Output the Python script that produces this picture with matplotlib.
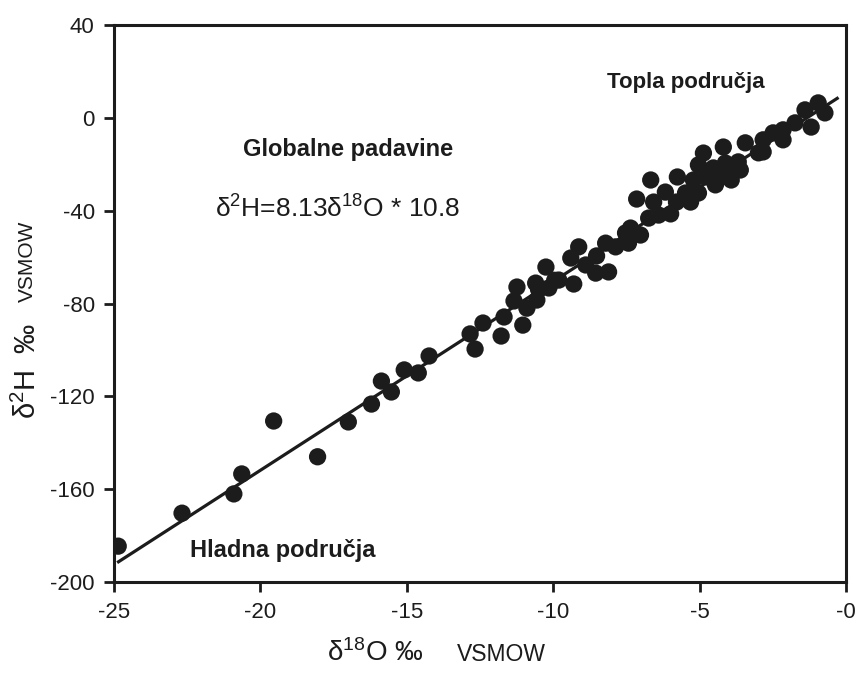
import matplotlib.pyplot as plt
import numpy as np

plt.rcParams['font.family'] = ['Liberation Sans', 'DejaVu Sans']
plt.rcParams['mathtext.fontset'] = 'custom'
plt.rcParams['mathtext.rm'] = 'Liberation Sans'

# delta-18O and delta-2H of precipitation samples (permil VSMOW)
d18o = [-24.86, -22.68, -20.64, -20.91, -19.55, -18.05, -17.0, -16.21, -15.87, -15.53,
        -15.09, -14.61, -14.24, -12.84, -12.67, -12.40, -11.78, -11.68, -11.04, -11.34,
        -11.24, -10.9, -10.6, -10.25, -10.56, -10.15, -9.81, -9.40, -9.13, -9.30,
        -8.89, -8.52, -8.55, -8.11, -8.21, -7.87, -7.43, -7.53, -7.02, -7.36,
        -7.15, -6.74, -6.57, -6.67, -6.40, -6.17, -5.99, -5.76, -5.79, -5.48,
        -5.31, -5.21, -5.04, -5.04, -4.87, -4.77, -4.53, -4.46, -4.19, -4.12,
        -3.44, -2.83, -2.83, -2.49, -2.15, -2.15, -1.74, -1.40, -1.19, -0.95,
        -0.72, -3.92, -3.68, -2.99, -4.36, -3.92, -3.61, -10.5, -9.95]
d2h = [-184.5, -170.3, -153.4, -162.0, -130.6, -146.0, -131.0, -123.3, -113.4, -118.1,
       -108.6, -109.9, -102.6, -93.1, -99.6, -88.4, -94.0, -85.8, -89.3, -78.9,
       -72.9, -82.0, -71.2, -64.3, -78.5, -73.3, -69.9, -60.4, -55.6, -71.6,
       -63.4, -59.5, -66.9, -66.4, -54.0, -55.6, -54.0, -49.6, -50.5, -47.5,
       -35.0, -43.2, -36.3, -26.8, -41.9, -32.0, -41.4, -25.5, -36.3, -32.4,
       -36.3, -26.8, -32.4, -20.3, -15.2, -25.5, -21.6, -28.9, -12.6, -19.5,
       -10.8, -9.5, -14.7, -6.5, -9.5, -5.2, -2.2, 3.4, -4.0, 6.4,
       2.1, -21.6, -19.0, -15.1, -25.5, -26.8, -22.5, -74.0, -70.0]

# meteoric water line
slope, intercept = 8.13, 10.8
line_x = np.array([-24.85, -0.3])

ink = '#1c1c1c'

fig = plt.figure(figsize=(8.58, 6.73), dpi=100)
ax = fig.add_axes([0.133, 0.135, 0.853, 0.828])

ax.plot(line_x, slope * line_x + intercept, color=ink, lw=2.3, zorder=2)
ax.scatter(d18o, d2h, s=155, color=ink, edgecolors='none', zorder=3)

ax.set_xlim(-25, 0)
ax.set_ylim(-200, 40)
xt = [-25, -20, -15, -10, -5, 0]
yt = [40, 0, -40, -80, -120, -160, -200]
ax.set_xticks(xt)
ax.set_xticklabels(['-25', '-20', '-15', '-10', '-5', '-0'])
ax.set_yticks(yt)
ax.set_yticklabels([str(v) if v >= 0 else '-' + str(-v) for v in yt])
ax.tick_params(direction='out', length=7, width=2, labelsize=16, pad=7, colors=ink)
for s in ax.spines.values():
    s.set_linewidth(2.2)
    s.set_color(ink)

# annotations
ax.text(-2.79, 12.8, 'Topla područja', fontsize=16, fontweight='bold', ha='right', va='baseline', color=ink)
ax.text(-20.6, -16.5, 'Globalne padavine', fontsize=17, fontweight='bold', ha='left', va='baseline', color=ink)
ax.text(-21.56, -42.8, r'$\mathregular{δ^2H}$=8.13$\mathregular{δ^{18}O}$ * 10.8', fontsize=19,
        ha='left', va='baseline', color=ink)
ax.text(-22.41, -189.3, 'Hladna područja', fontsize=17, fontweight='bold', ha='left', va='baseline', color=ink)

# axis titles with smaller VSMOW part
fig.text(0.494, 0.009, r'$\mathregular{δ^{18}O}$ ‰', fontsize=20, ha='right', va='bottom', color=ink)
fig.text(0.533, 0.011, 'VSMOW', fontsize=16.5, ha='left', va='bottom', color=ink)
fig.text(0.0315, 0.449, r'$\mathregular{δ^2H}$  ‰', fontsize=21, ha='center', va='center', rotation=90, color=ink)
fig.text(0.0315, 0.612, 'VSMOW', fontsize=15, ha='center', va='center', rotation=90, color=ink)

fig.savefig('out.png', dpi=100)
